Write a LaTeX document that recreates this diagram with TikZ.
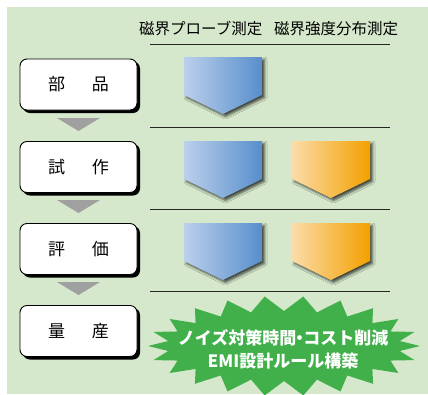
\documentclass[tikz,border=0pt]{standalone}
\usepackage{fontspec}
\setmainfont{Noto Sans CJK JP}
\usetikzlibrary{shadows.blur}
\definecolor{bggreen}{RGB}{213,232,203}
\definecolor{starg}{RGB}{65,176,75}
\definecolor{blueL}{RGB}{187,208,236}
\definecolor{blueR}{RGB}{88,142,204}
\definecolor{orL}{RGB}{251,220,168}
\definecolor{orR}{RGB}{244,160,0}
\definecolor{trigray}{RGB}{160,160,160}
\tikzset{
  stagebox/.style={draw=black, line width=0.9pt, fill=white, rounded corners=7pt,
    minimum width=117pt, minimum height=51pt, inner sep=0pt, font=\fontsize{17}{17}\selectfont},
  boxshadow/.style={fill=black, rounded corners=7pt},
  sepline/.style={draw=black!85, line width=0.8pt},
  downtri/.style={fill=trigray},
  penta/.style={blur shadow={shadow xshift=2.5pt, shadow yshift=-2.5pt, shadow blur radius=2.5pt, shadow opacity=70}},
  bluepenta/.style={penta, left color=blueL, right color=blueR},
  orpenta/.style={penta, left color=orL, right color=orR},
  header/.style={font=\fontsize{15.5}{15.5}\selectfont, anchor=base west, inner sep=0pt},
  startext/.style={text=white, font=\bfseries\fontsize{17}{23}\selectfont, align=center}
}
\begin{document}
\begin{tikzpicture}[x=1pt, y=-1pt]
\useasboundingbox (0,0) rectangle (428,394);
\fill[bggreen] (7,7) rectangle (428,394);
% header
\node[header] (h1) at (139,34.5) {磁界プローブ測定};
\node[header] (h2) at (274,34.5) {磁界強度分布測定};
% separator lines
\foreach \y/\n in {44/l0,127/l1,209/l2,291/l3}{
  \coordinate (\n a) at (150,\y);
  \coordinate (\n b) at (390,\y);
  \draw[sepline] (\n a) -- (\n b);
}
% stage boxes
\foreach \y/\n/\t in {84.5/b1/{部\hspace{27pt}品},167/b2/{試\hspace{27pt}作},249/b3/{評\hspace{27pt}価},331/b4/{量\hspace{27pt}産}}{
  \fill[boxshadow] (22.8,\y-23) rectangle (140,\y+28.5);
  \node[stagebox] (\n) at (78.5,\y) {\t};
}
% gray triangles
\foreach \y in {118,200,282}{
  \fill[downtri] (57,\y) -- (100,\y) -- (78.5,\y+13) -- cycle;
}
% blue pentagons
\foreach \t in {57,141,223}{
  \path[bluepenta] (184,\t) -- (262,\t) -- (262,\t+38) -- (223,\t+57) -- (184,\t+38) -- cycle;
}
% orange pentagons
\foreach \t in {141,223}{
  \path[orpenta] (292,\t) -- (370,\t) -- (370,\t+38) -- (331,\t+57) -- (292,\t+38) -- cycle;
}
% starburst
\fill[starg] (284+136,346)
  \foreach \i [evaluate=\i as \rx using {mod(\i,2)==0 ? 136 : 117},
               evaluate=\i as \ry using {mod(\i,2)==0 ? 50 : 35}] in {1,...,43}{
    -- ({284+\rx*cos(\i*360/44)},{346+\ry*sin(\i*360/44)})
  } -- cycle;
\node[startext] (star) at (283,349) {ノイズ対策時間\hspace{-5pt}・\hspace{-5pt}コスト削減\\EMI設計ルール構築};
\end{tikzpicture}
\end{document}
